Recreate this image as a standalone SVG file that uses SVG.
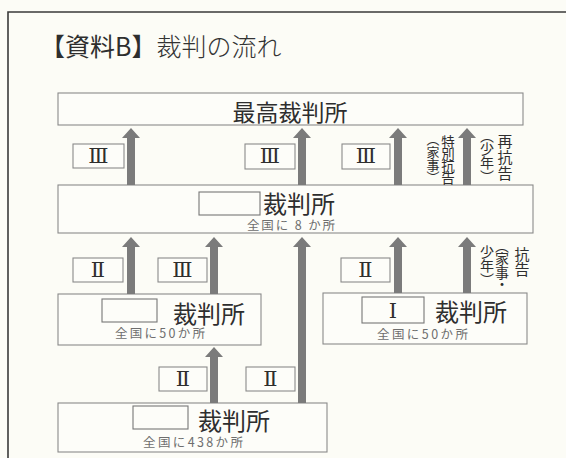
<svg xmlns="http://www.w3.org/2000/svg" width="566" height="458" viewBox="0 0 566 458">
<style>
.bg{fill:#fcfcf6}
.frame{fill:none;stroke:#3a3a3a;stroke-width:1.6}
.box{fill:#fdfdf9;stroke:#8a8a8a;stroke-width:1.1}
.blank{fill:#fdfdf9;stroke:#777;stroke-width:1.1}
.arr{fill:#7b7b7b}
.jp{font-family:"Noto Sans CJK JP","Noto Sans",sans-serif;fill:#2e2e2e}
.big{font-size:24px}
.small{font-size:12.5px;fill:#6e6e6e}
.num{font-family:"DejaVu Serif","Liberation Serif","Noto Sans CJK JP",serif;font-size:21px;fill:#2e2e2e;text-anchor:middle}
.vt{font-family:"Noto Sans CJK JP",sans-serif;fill:#2e2e2e;writing-mode:vertical-rl;font-feature-settings:"vpal";text-anchor:start}
</style>
<rect class="bg" x="0" y="0" width="566" height="458"/>
<path class="frame" d="M8,470 V12 H566"/>
<g id="title">
<text class="jp" x="40" y="56" font-size="25">【資料B】<tspan font-weight="300" fill="#333">裁判の流れ</tspan></text>
</g>

<g id="supreme">
<rect class="box" x="58" y="93" width="465" height="32"/>
<text class="jp" x="290" y="121" font-size="23" text-anchor="middle">最高裁判所</text>
</g>

<g id="high">
<rect class="box" x="58" y="185" width="475" height="48"/>
<rect class="blank" x="199" y="192" width="61" height="23"/>
<text class="jp big" x="263" y="213">裁判所</text>
<text class="jp small" x="247" y="230" textLength="88">全国に 8 か所</text>
</g>

<g id="district">
<rect class="box" x="58" y="294" width="203" height="51"/>
<rect class="blank" x="102" y="299" width="55" height="23"/>
<text class="jp big" x="173" y="323">裁判所</text>
<text class="jp small" x="115" y="338" textLength="90">全国に50か所</text>
</g>

<g id="family">
<rect class="box" x="323" y="293" width="204" height="51"/>
<rect class="blank" x="362" y="297" width="62" height="26"/>
<text class="num" x="393" y="318">Ⅰ</text>
<text class="jp big" x="435" y="321">裁判所</text>
<text class="jp small" x="377" y="339" textLength="91">全国に50か所</text>
</g>

<g id="summary">
<rect class="box" x="58" y="403" width="269" height="49"/>
<rect class="blank" x="133" y="406" width="55" height="23"/>
<text class="jp big" x="198" y="430">裁判所</text>
<text class="jp small" x="143" y="447" textLength="100">全国に438か所</text>
</g>

<g id="labels">
<rect class="box" x="73" y="144" width="51" height="24"/><text class="num" x="98.5" y="163">Ⅲ</text>
<rect class="box" x="245" y="144" width="50" height="25"/><text class="num" x="270" y="163">Ⅲ</text>
<rect class="box" x="342" y="144" width="48" height="25"/><text class="num" x="366" y="163">Ⅲ</text>
<rect class="box" x="73" y="258" width="50" height="24"/><text class="num" x="98" y="277">Ⅱ</text>
<rect class="box" x="158" y="258" width="49" height="24"/><text class="num" x="182.5" y="277">Ⅲ</text>
<rect class="box" x="341" y="258" width="49" height="24"/><text class="num" x="365.5" y="277">Ⅱ</text>
<rect class="box" x="159" y="367" width="48" height="24"/><text class="num" x="183" y="386">Ⅱ</text>
<rect class="box" x="246" y="367" width="49" height="24"/><text class="num" x="270.5" y="386">Ⅱ</text>
<text class="vt" x="433" y="139" font-size="13">（家事）</text>
<text class="vt" x="448" y="135" font-size="13.5" letter-spacing="-1.5">特別抗告</text>
<text class="vt" x="487" y="135" font-size="14">（少年）</text>
<text class="vt" x="505" y="134" font-size="15" letter-spacing="1">再抗告</text>
<text class="vt" x="487" y="245" font-size="14">少年）</text>
<text class="vt" x="502" y="245" font-size="14">（家事・</text>
<text class="vt" x="522" y="247" font-size="15">抗告</text>
</g>

<g id="connectors">
<path class="arr" d="M127,185 V138 H122 L131,128 L140,138 H135 V185 Z"/>
<path class="arr" d="M298,185 V138 H293 L302,128 L311,138 H306 V185 Z"/>
<path class="arr" d="M394,185 V138 H389 L398,128 L407,138 H402 V185 Z"/>
<path class="arr" d="M463,185 V138 H458 L467,128 L476,138 H471 V185 Z"/>
<path class="arr" d="M127,294 V247 H122 L131,237 L140,247 H135 V294 Z"/>
<path class="arr" d="M210,294 V247 H205 L214,237 L223,247 H218 V294 Z"/>
<path class="arr" d="M298,403 V247 H293 L302,237 L311,247 H306 V403 Z"/>
<path class="arr" d="M394,293 V247 H389 L398,237 L407,247 H402 V293 Z"/>
<path class="arr" d="M463,293 V247 H458 L467,237 L476,247 H471 V293 Z"/>
<path class="arr" d="M210,403 V357 H205 L214,347 L223,357 H218 V403 Z"/>
</g>
</svg>
